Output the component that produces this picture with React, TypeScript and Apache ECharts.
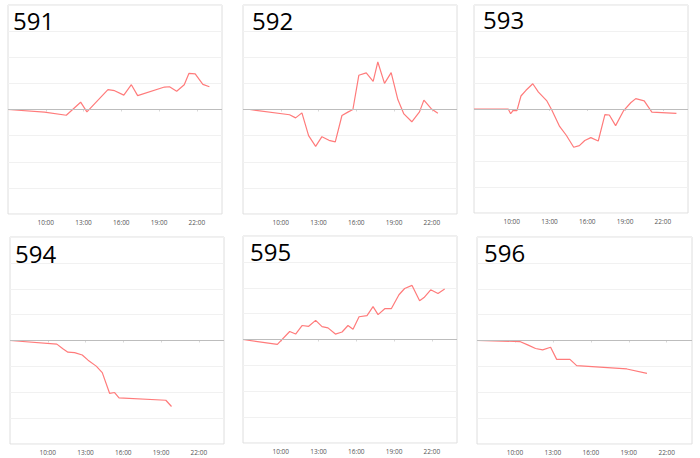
import React, { useEffect, useRef } from "react";
import * as echarts from "echarts";

const xTickHours = [10, 13, 16, 19, 22];
const panelNames = ["591", "592", "593", "594", "595", "596"];

const hours591 = [7, 9.9, 11.63, 12.77, 13.27, 14.94, 15.47, 16.2, 16.8, 17.3, 19.43, 19.83, 20.4, 21.0, 21.37, 21.87, 22.48, 23.0];
const values591 = [0, -0.1, -0.22, 0.28, -0.09, 0.76, 0.72, 0.55, 0.95, 0.53, 0.86, 0.87, 0.7, 0.95, 1.38, 1.36, 0.96, 0.87];

const hours592 = [7, 7.53, 10.7, 11.18, 11.68, 12.21, 12.77, 13.27, 13.83, 14.33, 14.86, 15.33, 15.73, 16.2, 16.79, 17.34, 17.71, 18.24, 18.77, 19.3, 19.78, 20.41, 21.02, 21.37, 21.95, 22.48];
const values592 = [0, 0, -0.2, -0.32, -0.13, -1.0, -1.41, -1.04, -1.18, -1.24, -0.23, -0.1, 0, 1.31, 1.4, 1.08, 1.82, 1.0, 1.41, 0.38, -0.17, -0.47, -0.09, 0.36, 0.03, -0.14];

const hours593 = [7, 9.72, 9.91, 10.12, 10.41, 10.73, 11.13, 11.67, 12.12, 12.79, 13.19, 13.8, 14.33, 14.92, 15.37, 15.8, 16.28, 16.87, 17.4, 17.75, 18.25, 18.89, 19.45, 19.85, 20.52, 21.13, 23.08];
const values593 = [0, 0, -0.18, -0.05, -0.06, 0.5, 0.72, 0.97, 0.65, 0.31, -0.05, -0.67, -1.01, -1.47, -1.41, -1.21, -1.1, -1.23, -0.22, -0.23, -0.64, -0.06, 0.24, 0.4, 0.31, -0.12, -0.17];

const hours594 = [7, 10.72, 11.2, 11.6, 12.13, 12.74, 13.2, 13.85, 14.33, 14.91, 15.31, 15.66, 19.38, 19.83];
const values594 = [0, -0.14, -0.32, -0.45, -0.47, -0.56, -0.76, -0.99, -1.24, -2.04, -2.01, -2.22, -2.31, -2.55];

const hours595 = [7, 9.73, 10.71, 11.18, 11.69, 12.22, 12.77, 13.28, 13.75, 14.34, 14.87, 15.34, 15.74, 16.22, 16.85, 17.33, 17.73, 18.26, 18.78, 19.39, 19.84, 20.43, 21.03, 21.38, 21.91, 22.49, 23.02];
const values595 = [0, -0.19, 0.31, 0.21, 0.54, 0.51, 0.74, 0.5, 0.45, 0.21, 0.29, 0.54, 0.4, 0.88, 0.92, 1.27, 0.96, 1.19, 1.19, 1.73, 1.97, 2.09, 1.5, 1.62, 1.92, 1.78, 1.95];

const hours596 = [7, 10.39, 11.05, 11.63, 12.19, 12.82, 13.3, 14.35, 14.88, 18.85, 20.44];
const values596 = [0, -0.04, -0.18, -0.31, -0.36, -0.26, -0.73, -0.73, -0.97, -1.1, -1.27];

const seriesHours = [hours591, hours592, hours593, hours594, hours595, hours596];
const seriesValues = [values591, values592, values593, values594, values595, values596];

const layouts = [
  { left: 8, top: 5, width: 214, height: 209, tx: 13, ty: 8 },
  { left: 243, top: 5, width: 214, height: 209, tx: 252, ty: 8 },
  { left: 474, top: 5, width: 214, height: 208, tx: 483, ty: 7 },
  { left: 10, top: 237, width: 214, height: 207, tx: 15, ty: 241 },
  { left: 243, top: 236, width: 214, height: 207, tx: 250, ty: 239 },
  { left: 477, top: 237, width: 215, height: 207, tx: 484, ty: 240 },
];

export default function App() {
  const ref = useRef<HTMLDivElement>(null);
  useEffect(() => {
    if (!ref.current) return;
    const chart = echarts.init(ref.current, undefined, { renderer: "svg" });
    const grid = layouts.map((l) => ({
      left: l.left,
      top: l.top,
      width: l.width,
      height: l.height,
      show: true,
      borderColor: "#dedede",
      borderWidth: 1,
      backgroundColor: "#fff",
      containLabel: false,
    }));
    const xAxis = layouts.map((_, i) => ({
      type: "value",
      gridIndex: i,
      min: 7,
      max: 24,
      axisLine: { show: false },
      axisTick: {
        show: true,
        length: 2,
        lineStyle: { color: "#d8d8d8" },
        customValues: xTickHours,
      },
      axisLabel: {
        customValues: xTickHours,
        formatter: (v: number) => `${v}:00`,
        fontSize: 6.5,
        color: "#555",
        margin: 4.5,
        fontFamily: "Open Sans",
      },
      splitLine: { show: false },
    }));
    const yAxis = layouts.map((_, i) => ({
      type: "value",
      gridIndex: i,
      min: -4,
      max: 4,
      interval: 1,
      axisLine: { show: false },
      axisTick: { show: false },
      axisLabel: { show: false },
      splitLine: { show: true, lineStyle: { color: "#f1f1f1", width: 1 } },
    }));
    const series = seriesHours.map((hs, i) => ({
      type: "line",
      xAxisIndex: i,
      yAxisIndex: i,
      showSymbol: false,
      symbol: "none",
      lineStyle: { color: "#ff7b7b", width: 1.2 },
      itemStyle: { color: "#ff7b7b" },
      data: hs.map((h, j) => [h, seriesValues[i][j]]),
      markLine: {
        silent: true,
        symbol: "none",
        label: { show: false },
        lineStyle: { color: "#bdbdbd", type: "solid", width: 1.2 },
        data: [{ yAxis: 0 }],
      },
      z: 3,
    }));
    const title = layouts.map((l, i) => ({
      text: panelNames[i],
      left: l.tx,
      top: l.ty,
      padding: 0,
      textStyle: {
        fontSize: 24,
        fontWeight: "normal",
        color: "#000",
        fontFamily: "Open Sans",
      },
    }));
    chart.setOption({
      animation: false,
      backgroundColor: "#fff",
      title,
      grid,
      xAxis,
      yAxis,
      series,
    } as any);
    return () => chart.dispose();
  }, []);
  return (
    <div
      ref={ref}
      style={{ position: "absolute", left: 0, top: 0, width: 700, height: 458 }}
    />
  );
}
